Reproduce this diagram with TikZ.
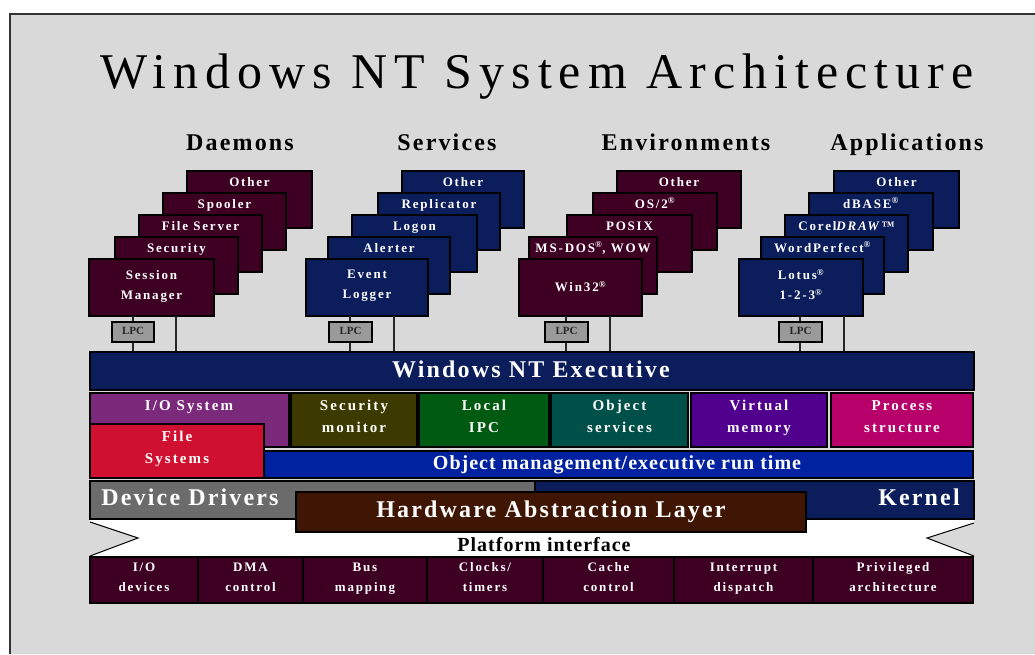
\documentclass[tikz,border=0pt]{standalone}
\usepackage{fontspec}
\setmainfont{Liberation Serif}
\newfontfamily\ttlfont[LetterSpace=14]{Liberation Serif}
\newfontfamily\hdfont[LetterSpace=9]{Liberation Serif}
\newfontfamily\smfont[LetterSpace=14]{Liberation Serif}
\newfontfamily\platfont[LetterSpace=5]{Liberation Serif}
\definecolor{cbg}{HTML}{D9D9D9}
\definecolor{cmaroon}{HTML}{3D0022}
\definecolor{cnavy}{HTML}{0B1D5A}
\definecolor{cio}{HTML}{7B2A7B}
\definecolor{colive}{HTML}{3D3A00}
\definecolor{cgreen}{HTML}{005A12}
\definecolor{cteal}{HTML}{00504A}
\definecolor{cviolet}{HTML}{50008C}
\definecolor{cmagenta}{HTML}{B8006A}
\definecolor{cred}{HTML}{D01030}
\definecolor{cblue}{HTML}{0022A0}
\definecolor{cdd}{HTML}{6B6B6B}
\definecolor{cbrown}{HTML}{3F1604}
\definecolor{clpc}{HTML}{9A9A9A}
\newcommand\reg{\textsuperscript{®}}
\newcommand\bx[8][]{%
  \pgfmathsetmacro\bxw{#6-#4}\pgfmathsetmacro\bxh{#7-#5}%
  \node[box, fill=#3, minimum width=\bxw pt, minimum height=\bxh pt, #1] (#2) at ({(#4+#6)/2},{(#5+#7)/2}) {#8};}
\newcommand\sbx[6][124]{%
  \bx{#2}{#3}{#4}{#5}{#4+#1}{#5+57}{}%
  \node[stklbl, anchor=base] (#2L) at ([yshift=-16pt]#2.north) {#6};}
\tikzset{
  box/.style={draw=black, line width=1.5pt, inner sep=0pt, text=white, align=center,
    font=\smfont\bfseries\fontsize{15}{22}\selectfont,
    execute at begin node={\strut}, execute at end node={\strut}},
  stklbl/.style={text=white, inner sep=0pt, font=\smfont\bfseries\fontsize{13}{19}\selectfont},
  stkfront/.style={font=\smfont\bfseries\fontsize{13}{20}\selectfont},
  bot/.style={font=\smfont\bfseries\fontsize{13}{20}\selectfont},
  hd/.style={anchor=base, inner sep=0pt, font=\hdfont\bfseries\fontsize{24}{24}\selectfont},
  big/.style={anchor=base, inner sep=0pt, text=white, font=\hdfont\bfseries\fontsize{24}{24}\selectfont},
  conn/.style={draw=black!85, line width=1.5pt},
  lpc/.style={box, fill=clpc, text=black!85, font=\bfseries\fontsize{11}{11}\selectfont}
}
\begin{document}
\begin{tikzpicture}[x=1pt,y=-1pt]
\useasboundingbox (0,0) rectangle (1035,654);
\fill[white] (0,0) rectangle (1035,654);
\fill[cbg] (10,14) rectangle (1035,654);
\draw[black!80, line width=1.5pt] (10,654) -- (10,14) -- (1035,14);

\node[anchor=base, inner sep=0pt, text=black] (title) at (537,88)
  {\ttlfont\fontsize{50}{50}\selectfont Windows NT System Architecture};
\node[hd] (hDae) at (240,150) {Daemons};
\node[hd] (hSer) at (447,150) {Services};
\node[hd] (hEnv) at (686,150) {Environments};
\node[hd] (hApp) at (907,150) {Applications};

% Daemons
\sbx[125]{dOther}{cmaroon}{187}{171}{Other}
\sbx[123]{dSpool}{cmaroon}{163}{193}{Spooler}
\sbx[123]{dFile}{cmaroon}{139}{215}{File Server}
\sbx[123]{dSec}{cmaroon}{115}{237}{Security}
\bx[stkfront]{dSess}{cmaroon}{89}{259}{214}{316}{Session\\Manager}
% Services
\sbx[122]{sOther}{cnavy}{402}{171}{Other}
\sbx[122]{sRepl}{cnavy}{378}{193}{Replicator}
\sbx[125]{sLogon}{cnavy}{352}{215}{Logon}
\sbx[122]{sAlert}{cnavy}{328}{237}{Alerter}
\bx[stkfront]{sEvent}{cnavy}{306}{259}{428}{316}{Event\\Logger}
% Environments
\sbx[124]{eOther}{cmaroon}{617}{171}{Other}
\sbx[124]{eOS2}{cmaroon}{593}{193}{OS/2\reg}
\sbx[125]{ePosix}{cmaroon}{567}{215}{POSIX}
\sbx[128]{eDos}{cmaroon}{529}{237}{MS-DOS\reg, WOW}
\bx[stkfront]{eWin}{cmaroon}{519}{259}{642}{316}{Win32\reg}
% Applications
\sbx[125]{aOther}{cnavy}{834}{171}{Other}
\sbx[124]{aDbase}{cnavy}{809}{193}{dBASE\reg}
\sbx[123]{aCorel}{cnavy}{785}{215}{Corel\textit{DRAW}™}
\sbx[123]{aWP}{cnavy}{761}{237}{WordPerfect\reg}
\bx[stkfront]{aLotus}{cnavy}{739}{259}{863}{316}{Lotus\reg\\1-2-3\reg}

% executive bar
\bx{exec}{cnavy}{90}{352}{974}{390}{}
\node[big] (execL) at (531,377) {Windows NT Executive};

% connectors and LPC boxes
\coordinate (dX) at (176,316);
\coordinate (sX) at (394,316);
\coordinate (eX) at (610,316);
\coordinate (aX) at (844,316);
\coordinate (dP) at (133,316);
\coordinate (sP) at (350,316);
\coordinate (eP) at (566,316);
\coordinate (aP) at (800,316);
\foreach \c in {dX,sX,eX,aX,dP,sP,eP,aP}{\draw[conn] (\c) -- (\c |- exec.north);}
\bx[lpc]{dLPC}{clpc}{112}{322}{154}{342}{LPC}
\bx[lpc]{sLPC}{clpc}{329}{322}{372}{342}{LPC}
\bx[lpc]{eLPC}{clpc}{545}{322}{588}{342}{LPC}
\bx[lpc]{aLPC}{clpc}{779}{322}{822}{342}{LPC}

% executive components
\bx{ioSys}{cio}{90}{393}{289}{447}{}
\node[stklbl, anchor=base, font=\smfont\bfseries\fontsize{15}{22}\selectfont] (ioSysL) at (189,410) {I/O System};
\bx{secMon}{colive}{291}{393}{417}{447}{Security\\monitor}
\bx{lpcBox}{cgreen}{419}{393}{549}{447}{Local\\IPC}
\bx{objSvc}{cteal}{551}{393}{688}{447}{Object\\services}
\bx{virtMem}{cviolet}{691}{393}{827}{447}{Virtual\\memory}
\bx{procStr}{cmagenta}{831}{393}{973}{447}{Process\\structure}
\bx{objMgmt}{cblue}{264}{451}{973}{478}{}
\node[big, font=\platfont\bfseries\fontsize{20}{20}\selectfont] (objMgmtL) at (617,469) {Object management/executive run time};
\bx{fileSys}{cred}{90}{424}{264}{478}{File\\Systems}

% device drivers / kernel
\bx{devDrv}{cdd}{90}{481}{535}{519}{}
\node[big] (devDrvL) at (190,505) {Device Drivers};
\bx{kernel}{cnavy}{535}{481}{974}{519}{}
\node[big] (kernelL) at (919,505) {Kernel};

% platform interface band
\fill[white] (90,520) -- (974,520) -- (974,523) -- (927,538) -- (974,556)
  -- (90,556) -- (138,538) -- (90,522) -- cycle;
\draw[black, line width=1pt] (90,522) -- (138,538) -- (90,556);
\draw[black, line width=1pt] (974,523) -- (927,538) -- (974,556);
\node[anchor=base, inner sep=0pt, font=\platfont\bfseries\fontsize{20}{20}\selectfont] (platL) at (544,551) {Platform interface};

% HAL
\bx{hal}{cbrown}{296}{492}{806}{532}{}
\node[big] (halL) at (551,517) {Hardware Abstraction Layer};

% bottom row
\bx[bot]{ioDev}{cmaroon}{90}{557}{198}{603}{I/O\\devices}
\bx[bot]{dma}{cmaroon}{198}{557}{303}{603}{DMA\\control}
\bx[bot]{bus}{cmaroon}{303}{557}{427}{603}{Bus\\mapping}
\bx[bot]{clock}{cmaroon}{427}{557}{543}{603}{Clocks/\\timers}
\bx[bot]{cache}{cmaroon}{543}{557}{674}{603}{Cache\\control}
\bx[bot]{intr}{cmaroon}{674}{557}{813}{603}{Interrupt\\dispatch}
\bx[bot]{priv}{cmaroon}{813}{557}{973}{603}{Privileged\\architecture}
\end{tikzpicture}
\end{document}
